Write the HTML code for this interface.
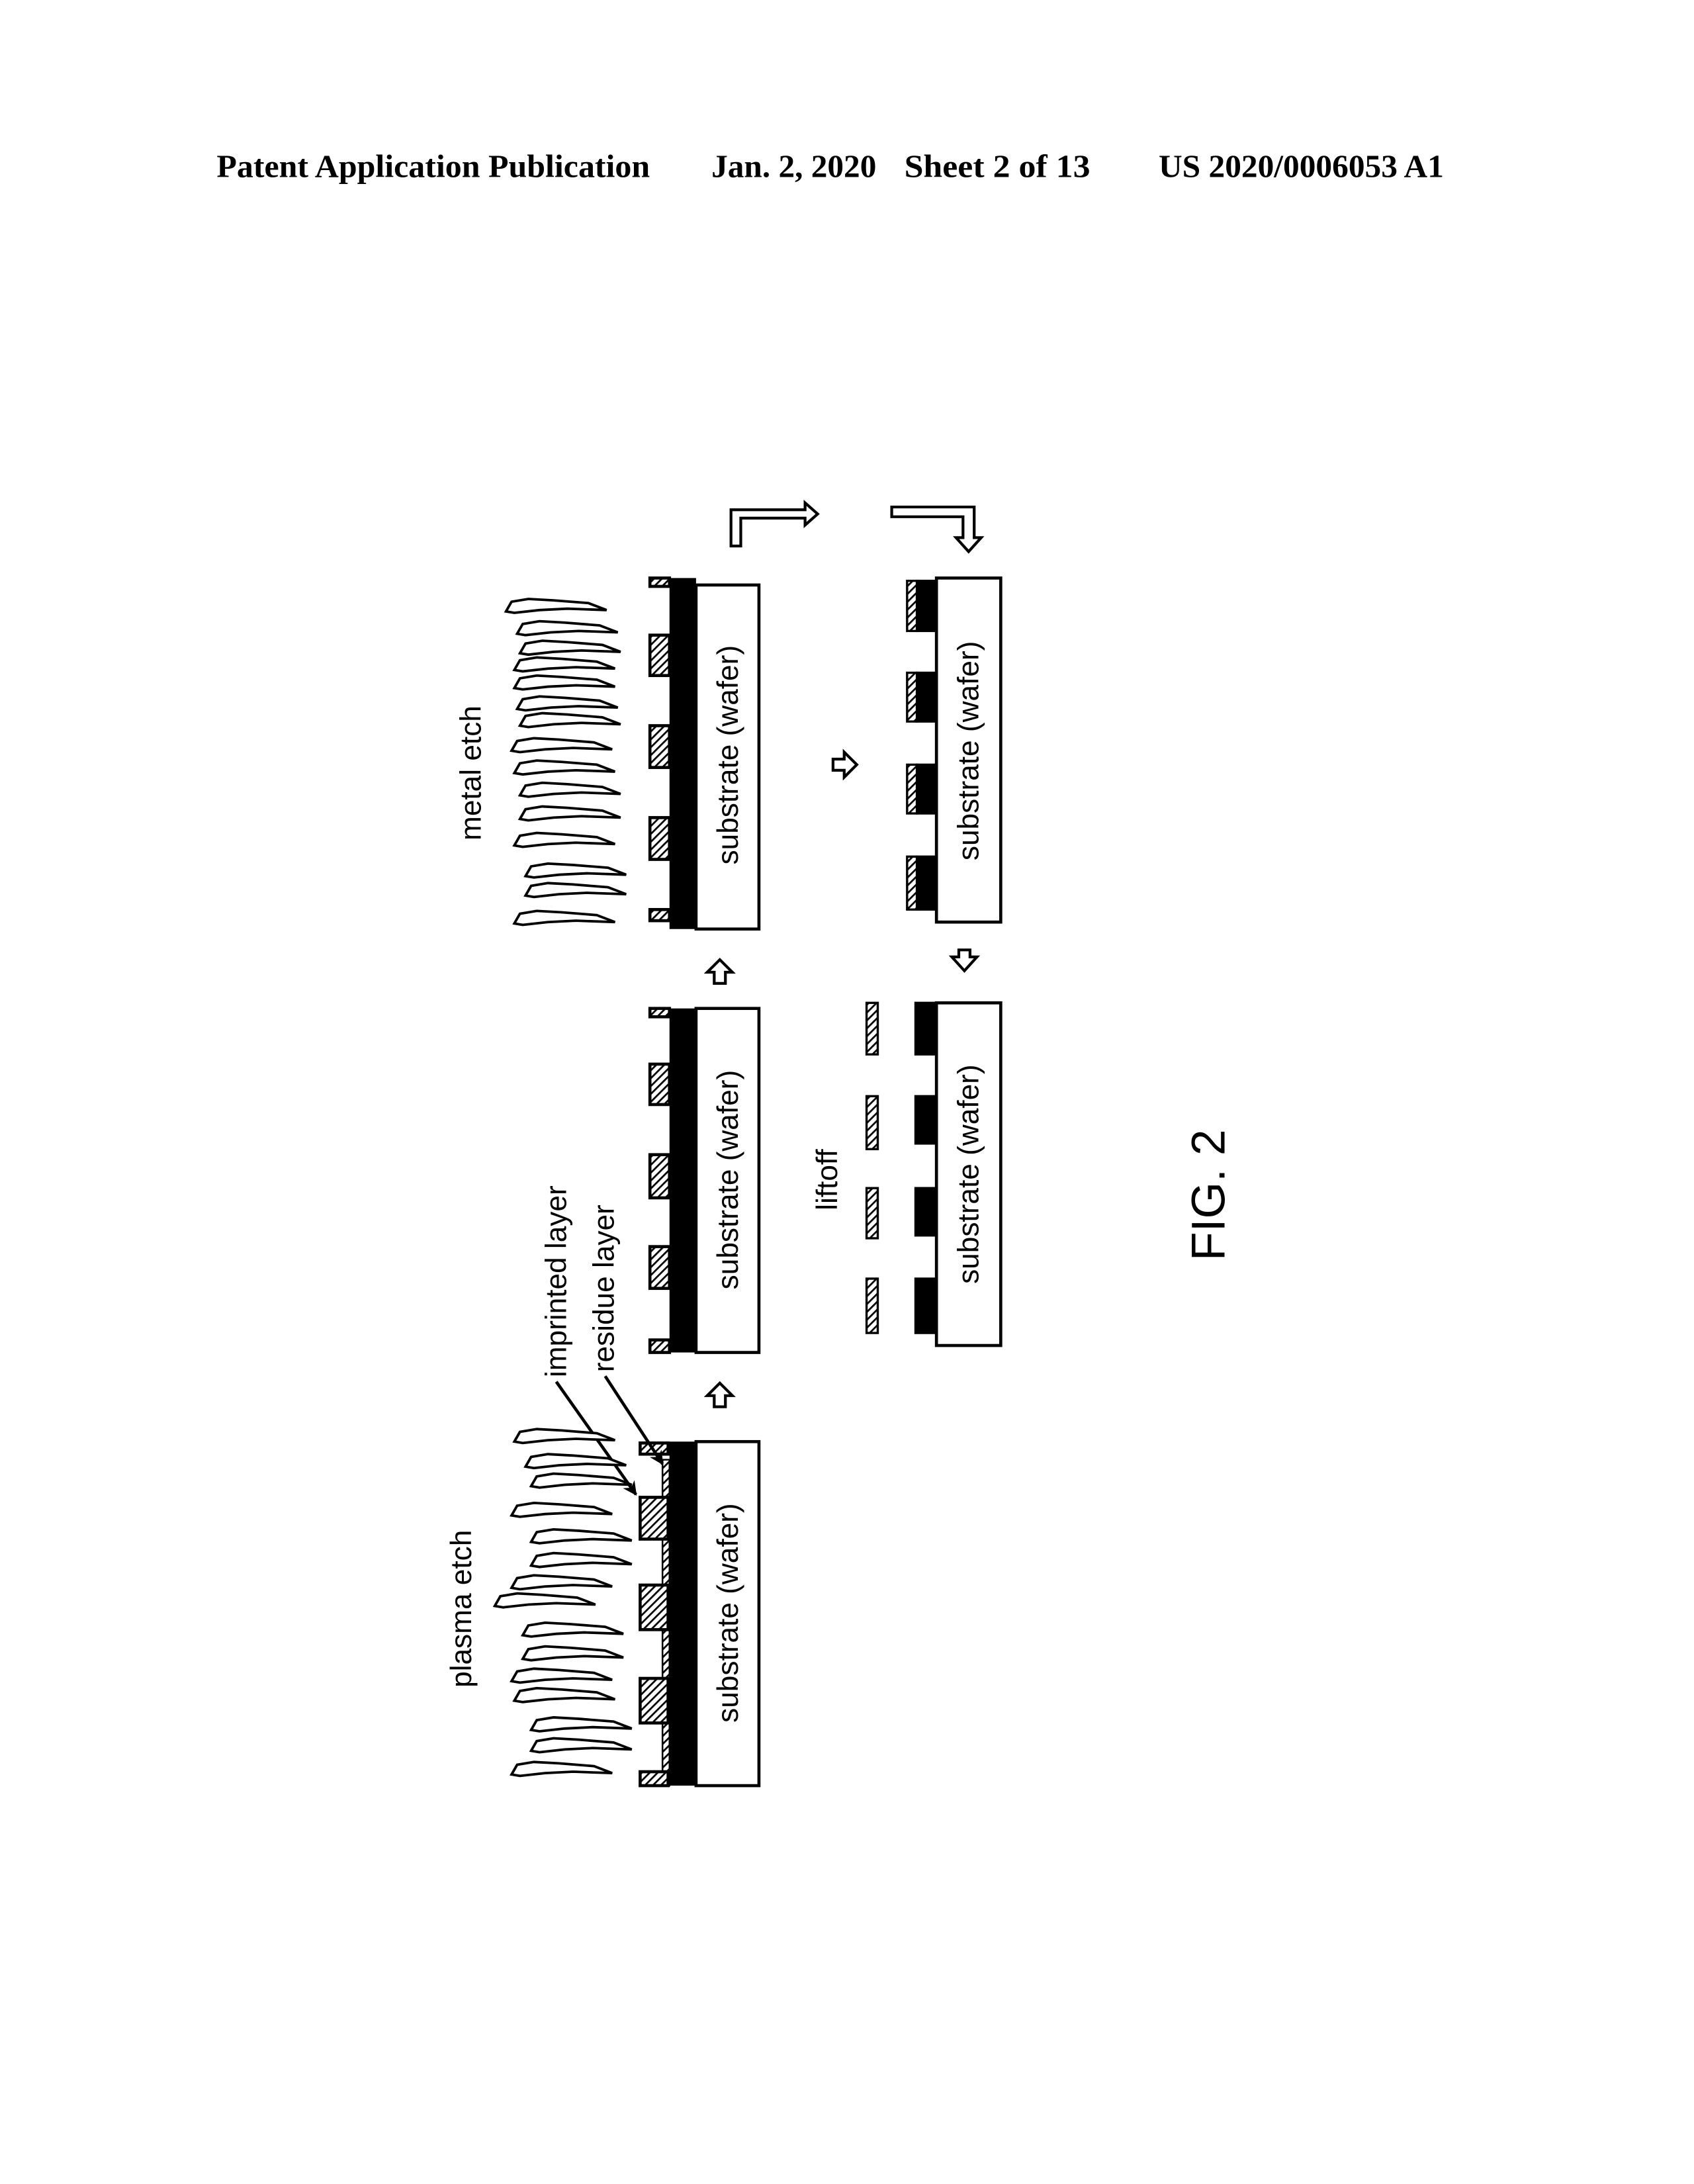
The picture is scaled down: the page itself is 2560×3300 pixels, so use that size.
<!DOCTYPE html>
<html><head><meta charset="utf-8"><style>
html,body{margin:0;padding:0;background:#fff;}
svg{display:block;}
</style></head><body>
<svg width="2560" height="3300" viewBox="0 0 1212 1568" preserveAspectRatio="none" xmlns="http://www.w3.org/2000/svg">
<defs>
<pattern id="h" width="4" height="4" patternUnits="userSpaceOnUse" patternTransform="rotate(45)">
<rect width="4" height="4" fill="#fff"/><rect width="1.3" height="4" fill="#000"/>
</pattern>
<marker id="ah" markerWidth="10" markerHeight="10" refX="9" refY="5" orient="auto" markerUnits="userSpaceOnUse"><path d="M0,0 L10,5 L0,10 L3,5 z" fill="#000"/></marker>
<g id="st"><path d="M0,-4 L12,-6 L30,-5 L55,-3 L68,2 L40,1 L20,2 L2,4 L-4,3 z" fill="#fff" stroke="#000" stroke-width="1.8"/></g>
</defs>
<g font-family="Liberation Serif, serif" font-weight="bold" font-size="23">
<text x="155" y="127" textLength="310" lengthAdjust="spacingAndGlyphs">Patent Application Publication</text>
<text x="509" y="127" textLength="118" lengthAdjust="spacingAndGlyphs">Jan. 2, 2020</text>
<text x="647" y="127" textLength="133" lengthAdjust="spacingAndGlyphs">Sheet 2 of 13</text>
<text x="829" y="127" textLength="204" lengthAdjust="spacingAndGlyphs">US 2020/0006053 A1</text>
</g>
<g stroke="#000" stroke-width="2.2">
<!-- Panel A -->
<rect x="498" y="1035" width="45" height="247" fill="#fff"/>
<rect x="479" y="1035" width="19" height="247" fill="#000" stroke="none"/>
<rect x="474" y="1048" width="5" height="234" fill="url(#h)" stroke-width="1.2"/>
<rect x="458" y="1036" width="20" height="8" fill="url(#h)"/>
<rect x="458" y="1075" width="20" height="30" fill="url(#h)"/>
<rect x="458" y="1138" width="20" height="32" fill="url(#h)"/>
<rect x="458" y="1205" width="20" height="32" fill="url(#h)"/>
<rect x="458" y="1272" width="20" height="10" fill="url(#h)"/>
<!-- Panel B -->
<rect x="498" y="724" width="45" height="247" fill="#fff"/>
<rect x="479" y="724" width="19" height="247" fill="#000" stroke="none"/>
<rect x="465" y="724" width="14" height="6" fill="url(#h)"/>
<rect x="465" y="764" width="14" height="29" fill="url(#h)"/>
<rect x="465" y="829" width="14" height="31" fill="url(#h)"/>
<rect x="465" y="895" width="14" height="30" fill="url(#h)"/>
<rect x="465" y="962" width="14" height="9" fill="url(#h)"/>
<!-- Panel C -->
<rect x="498" y="420" width="45" height="247" fill="#fff"/>
<rect x="479" y="415" width="19" height="252" fill="#000" stroke="none"/>
<rect x="465" y="415" width="14" height="6" fill="url(#h)"/>
<rect x="465" y="456" width="14" height="29" fill="url(#h)"/>
<rect x="465" y="521" width="14" height="30" fill="url(#h)"/>
<rect x="465" y="587" width="14" height="30" fill="url(#h)"/>
<rect x="465" y="653" width="14" height="8" fill="url(#h)"/>
<!-- Panel D -->
<rect x="670" y="415" width="46" height="247" fill="#fff"/>
<g stroke-width="1.6">
<rect x="649" y="417" width="7" height="36" fill="url(#h)"/><rect x="656" y="417" width="14" height="36" fill="#000"/>
<rect x="649" y="483" width="7" height="35" fill="url(#h)"/><rect x="656" y="483" width="14" height="35" fill="#000"/>
<rect x="649" y="549" width="7" height="35" fill="url(#h)"/><rect x="656" y="549" width="14" height="35" fill="#000"/>
<rect x="649" y="615" width="7" height="38" fill="url(#h)"/><rect x="656" y="615" width="14" height="38" fill="#000"/>
</g>
<!-- Panel E -->
<rect x="670" y="720" width="46" height="246" fill="#fff"/>
<g stroke-width="1.6">
<rect x="655" y="720" width="15" height="37" fill="#000"/>
<rect x="655" y="787" width="15" height="34" fill="#000"/>
<rect x="655" y="853" width="15" height="34" fill="#000"/>
<rect x="655" y="918" width="15" height="39" fill="#000"/>
<rect x="620" y="720" width="8" height="37" fill="url(#h)"/>
<rect x="620" y="787" width="8" height="38" fill="url(#h)"/>
<rect x="620" y="853" width="8" height="36" fill="url(#h)"/>
<rect x="620" y="918" width="8" height="39" fill="url(#h)"/>
</g>
</g>
<!-- hollow arrows -->
<g fill="#fff" stroke="#000" stroke-width="2">
<path d="M511,706 L511,698 L506,698 L515,689 L524,698 L519,698 L519,706 z"/>
<path d="M511,1010 L511,1002 L506,1002 L515,993 L524,1002 L519,1002 L519,1010 z"/>
<path d="M596,545 L604,545 L604,540 L613,549 L604,558 L604,553 L596,553 z"/>
<path d="M686,682 L694,682 L694,687 L699,687 L690,697 L681,687 L686,687 z"/>
<path d="M523,392 L523,366 L576,366 L576,361 L585,369 L576,377 L576,372 L530,372 L530,392 z"/>
<path d="M638,364 L697,364 L697,386 L702,386 L693,396 L684,386 L689,386 L689,371 L638,371 z"/>
</g>
<!-- leader lines -->
<g stroke="#000" stroke-width="2.2" fill="none">
<line x1="398" y1="992" x2="455" y2="1073" marker-end="url(#ah)"/>
<line x1="433" y1="988" x2="474" y2="1051" marker-end="url(#ah)"/>
</g>
<!-- streaks -->
<g>
<use href="#st" x="372" y="1032"/><use href="#st" x="380" y="1050"/><use href="#st" x="384" y="1064"/>
<use href="#st" x="370" y="1085"/><use href="#st" x="384" y="1104"/><use href="#st" x="384" y="1121"/>
<use href="#st" x="370" y="1137"/><use href="#st" x="358" y="1150"/><use href="#st" x="378" y="1171"/>
<use href="#st" x="378" y="1188"/><use href="#st" x="370" y="1204"/><use href="#st" x="372" y="1218"/>
<use href="#st" x="384" y="1239"/><use href="#st" x="384" y="1254"/><use href="#st" x="370" y="1271"/>
<use href="#st" x="366" y="436"/><use href="#st" x="374" y="452"/><use href="#st" x="376" y="466"/>
<use href="#st" x="372" y="478"/><use href="#st" x="372" y="491"/><use href="#st" x="374" y="506"/>
<use href="#st" x="376" y="518"/><use href="#st" x="370" y="536"/><use href="#st" x="372" y="552"/>
<use href="#st" x="376" y="568"/><use href="#st" x="376" y="585"/><use href="#st" x="372" y="604"/>
<use href="#st" x="380" y="626"/><use href="#st" x="380" y="640"/><use href="#st" x="372" y="660"/>
</g>
<!-- rotated text -->
<g font-family="Liberation Sans, sans-serif" font-size="21" text-anchor="middle" fill="#000">
<text transform="translate(528,1158) rotate(-90)">substrate (wafer)</text>
<text transform="translate(528,847) rotate(-90)">substrate (wafer)</text>
<text transform="translate(528,542) rotate(-90)">substrate (wafer)</text>
<text transform="translate(700,539) rotate(-90)">substrate (wafer)</text>
<text transform="translate(700,843) rotate(-90)">substrate (wafer)</text>
<text transform="translate(337,1155) rotate(-90)">plasma etch</text>
<text transform="translate(344,555) rotate(-90)">metal etch</text>
<text transform="translate(405,920) rotate(-90)">imprinted layer</text>
<text transform="translate(439,925) rotate(-90)">residue layer</text>
<text transform="translate(599,847) rotate(-90)">liftoff</text>
<text transform="translate(876,858) rotate(-90)" font-size="34">FIG. 2</text>
</g>
</svg>
</body></html>
